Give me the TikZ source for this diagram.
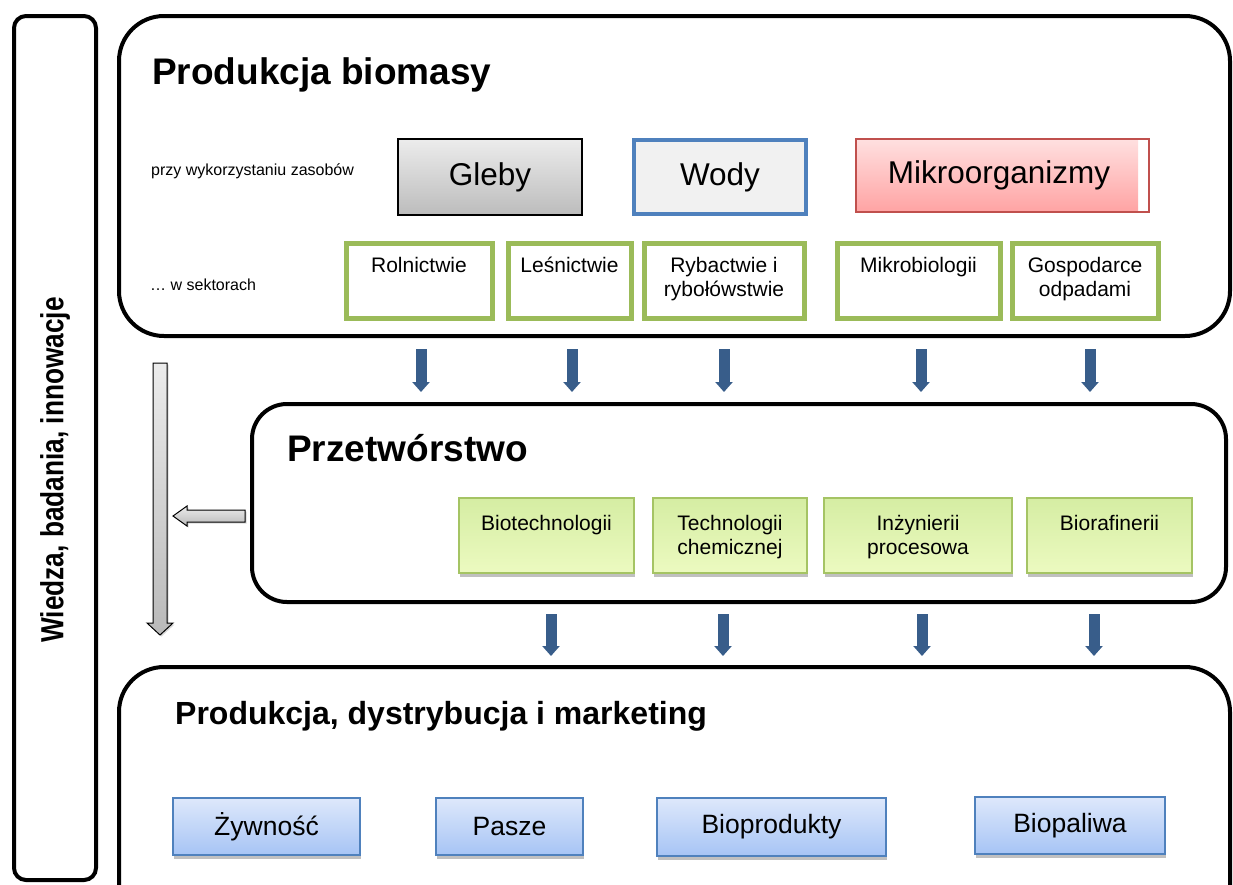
\documentclass[tikz,border=0pt]{standalone}
\usepackage{fontspec}
\setmainfont{Liberation Sans}
\newfontfamily\narrowfont[FakeStretch=0.82]{Liberation Sans}
\usetikzlibrary{arrows.meta,shadows,positioning,calc}

\definecolor{secgreen}{RGB}{155,187,89}
\definecolor{arrblue}{RGB}{56,93,138}
\definecolor{accblue}{RGB}{79,129,189}
\definecolor{accred}{RGB}{192,80,77}
\definecolor{procTop}{RGB}{213,237,163}
\definecolor{procBot}{RGB}{236,250,192}
\definecolor{procLine}{RGB}{165,196,100}
\definecolor{outTop}{RGB}{222,232,251}
\definecolor{outBot}{RGB}{166,196,245}
\definecolor{glebTop}{RGB}{236,236,236}
\definecolor{glebBot}{RGB}{188,188,188}
\definecolor{mikTop}{RGB}{255,224,224}
\definecolor{mikBot}{RGB}{255,163,163}
\definecolor{wodFill}{RGB}{241,241,241}
\definecolor{grTop}{RGB}{236,236,236}
\definecolor{grBot}{RGB}{185,185,185}

\tikzset{
  bigbox/.style={draw=black, line width=4pt, outer sep=0pt, inner sep=0pt},
  title/.style={font=\fontsize{37}{44}\selectfont\bfseries, inner sep=0pt, anchor=base west},
  smalltxt/.style={font=\fontsize{16}{19}\selectfont, inner sep=0pt, anchor=base west},
  resbox/.style={outer sep=0pt, inner sep=0pt, font=\fontsize{31.5}{36}\selectfont},
  secbox/.style={draw=secgreen, line width=5pt, fill=white, minimum height=75pt, outer sep=0pt, inner sep=0pt},
  sectext/.style={font=\fontsize{21}{24}\selectfont, align=center, inner sep=0pt, anchor=north},
  procbox/.style={draw=procLine, line width=1.2pt, top color=procTop, bottom color=procBot,
     minimum height=75pt, outer sep=0pt, inner sep=0pt,
     drop shadow={shadow xshift=1pt, shadow yshift=-4pt, opacity=0.35, fill=black!70}},
  outbox/.style={draw=accblue, line width=1.5pt, top color=outTop, bottom color=outBot,
     minimum height=57pt, outer sep=0pt, inner sep=0pt, font=\fontsize{26.5}{30}\selectfont,
     drop shadow={shadow xshift=1pt, shadow yshift=-4pt, opacity=0.35, fill=black!70}},
  bluearr/.style={draw=arrblue, line width=11pt, -{Triangle[width=17pt,length=10pt]}},
  grayarr/.style={draw=black, line width=1pt, top color=grTop, bottom color=grBot},
}

\begin{document}
\begin{tikzpicture}[x=1pt, y=-1pt]
\path[use as bounding box] (0,0) rectangle (1233,884);
\clip (0,0) rectangle (1233,884);
\fill[white] (0,0) rectangle (1233,884);

% left column
\node[bigbox, rounded corners=12pt, minimum width=82pt, minimum height=864pt] (left) at (55,448) {};
\node[rotate=90, inner sep=0pt, font=\narrowfont\bfseries\fontsize{32}{38}\selectfont] (wbi) at (55,470) {Wiedza, badania, innowacje};

% big boxes
\node[bigbox, rounded corners=45pt, minimum width=1111pt, minimum height=320pt] (top) at (674.5,176) {};
\node[bigbox, rounded corners=35pt, minimum width=974pt, minimum height=198pt] (mid) at (739,503) {};
\node[bigbox, rounded corners=45pt, minimum width=1111pt, minimum height=273pt] (bot) at (674.5,803.5) {};

% titles
\node[title] (t1) at (152,84) {Produkcja biomasy};
\node[title] (t2) at (287,461) {Przetwórstwo};
\node[title, font=\fontsize{32}{38}\selectfont\bfseries] (t3) at (175,724) {Produkcja, dystrybucja i marketing};

\node[smalltxt] (zas) at (151,175) {przy wykorzystaniu zasobów};
\node[smalltxt] (sek) at (150,290) {… w sektorach};

% resources
\node[resbox, draw=black, line width=2pt, top color=glebTop, bottom color=glebBot,
      minimum width=184pt, minimum height=76pt] (gleby) at (490,177) {Gleby};
\node[resbox, draw=accblue, line width=4pt, fill=wodFill,
      minimum width=172pt, minimum height=74pt] (wody) at (720,177) {Wody};
\shade[top color=mikTop, bottom color=mikBot] (856,139) rectangle (1138,212);
\node[resbox, draw=accred, line width=2pt,
      minimum width=293pt, minimum height=73pt] (mikro) at (1002.5,175.5) {\hspace*{-7pt}Mikroorganizmy};

% sectors
\node[secbox, minimum width=146pt] (rol) at (419,280.5) {};
\node[secbox, minimum width=123pt] (les) at (569.5,280.5) {};
\node[secbox, minimum width=160pt] (ryb) at (724,280.5) {};
\node[secbox, minimum width=163pt] (mkb) at (918.5,280.5) {};
\node[secbox, minimum width=146pt] (gos) at (1085,280.5) {};
\node[sectext] (rolT) at ($(rol.north)+(0,14)$) {Rolnictwie};
\node[sectext] (lesT) at ($(les.north)+(0,14)$) {Leśnictwie};
\node[sectext] (rybT) at ($(ryb.north)+(0,14)$) {Rybactwie i\\rybołówstwie};
\node[sectext] (mkbT) at ($(mkb.north)+(0,14)$) {Mikrobiologii};
\node[sectext] (gosT) at ($(gos.north)+(0,14)$) {Gospodarce\\odpadami};

% processing
\node[procbox, minimum width=175pt] (bio) at (546.5,535.5) {};
\node[procbox, minimum width=154pt] (tch) at (730,535.5) {};
\node[procbox, minimum width=188pt] (inz) at (918,535.5) {};
\node[procbox, minimum width=165pt] (raf) at (1109.5,535.5) {};
\node[sectext] (bioT) at ($(bio.north)+(0,17)$) {Biotechnologii};
\node[sectext] (tchT) at ($(tch.north)+(0,17)$) {Technologii\\chemicznej};
\node[sectext] (inzT) at ($(inz.north)+(0,17)$) {Inżynierii\\procesowa};
\node[sectext] (rafT) at ($(raf.north)+(0,17)$) {Biorafinerii};

% outputs
\node[outbox, minimum width=187pt] (zyw) at (266.5,826.5) {Żywność};
\node[outbox, minimum width=147pt] (pas) at (509.5,826.5) {Pasze};
\node[outbox, minimum width=229pt, minimum height=58pt] (bpr) at (771.5,827) {Bioprodukty};
\node[outbox, minimum width=190pt] (bpl) at (1070,825.5) {Biopaliwa};

% blue arrows
\foreach \i/\x in {1/421,2/572,3/724,4/921,5/1090}{
  \coordinate (a\i s) at (\x,349);
  \coordinate (a\i e) at (\x,392);
  \draw[bluearr] (a\i s) -- (a\i e);
}
\foreach \i/\x in {1/551,2/723,3/922,4/1094}{
  \coordinate (b\i s) at (\x,614);
  \coordinate (b\i e) at (\x,656);
  \draw[bluearr] (b\i s) -- (b\i e);
}

% gray arrows
\coordinate (vs) at (160,363);
\coordinate (ve) at (160,635);
\shade[grayarr, drop shadow={shadow xshift=1.5pt, shadow yshift=-1.5pt, opacity=0.3}]
  ($(vs)+(-7,0)$) -- ($(vs)+(7,0)$) -- ($(ve)+(7,-12)$) -- ($(ve)+(13,-12)$) -- (ve)
  -- ($(ve)+(-13,-12)$) -- ($(ve)+(-7,-12)$) -- cycle;
\coordinate (hs) at (245,516);
\coordinate (he) at (173,516);
\shade[grayarr, drop shadow={shadow xshift=1.5pt, shadow yshift=-1.5pt, opacity=0.3}]
  ($(hs)+(0,-6)$) -- ($(he)+(14,-6)$) -- ($(he)+(14,-10)$) -- (he) -- ($(he)+(14,10)$)
  -- ($(he)+(14,6)$) -- ($(hs)+(0,6)$) -- cycle;
\end{tikzpicture}
\end{document}
